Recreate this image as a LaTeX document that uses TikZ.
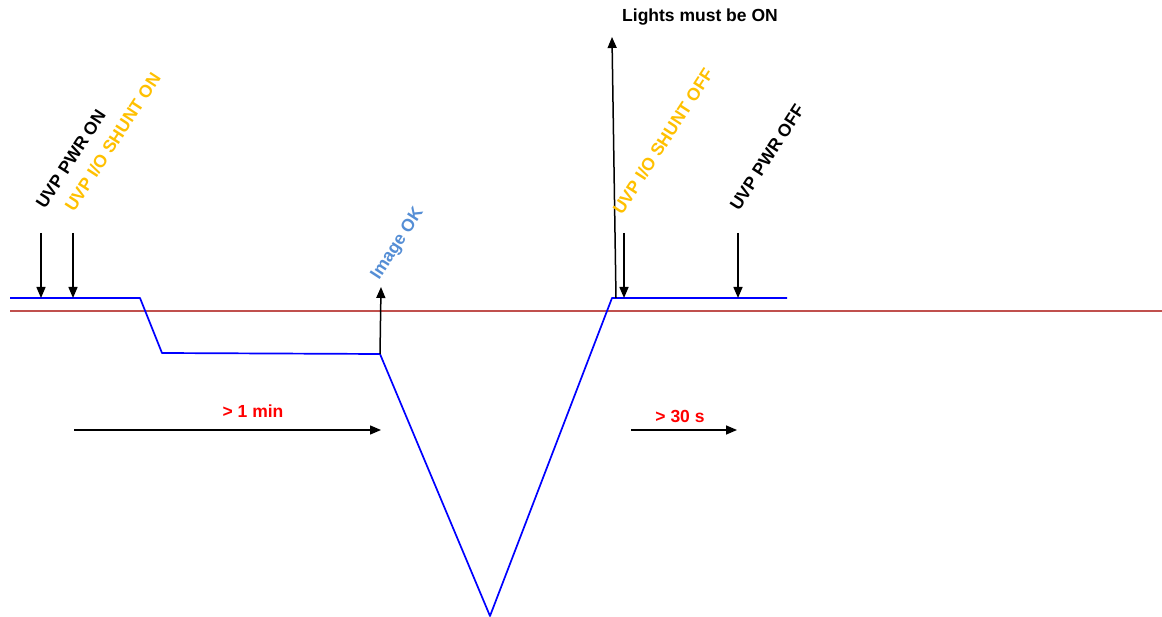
\documentclass[tikz,border=0pt]{standalone}
\usepackage{fontspec}
\setmainfont{Liberation Sans}
\usetikzlibrary{arrows.meta,positioning}

\definecolor{wave}{RGB}{0,0,255}
\definecolor{ref}{RGB}{192,80,77}
\definecolor{shunt}{RGB}{255,192,0}
\definecolor{imgok}{RGB}{85,142,213}
\definecolor{timing}{RGB}{255,0,0}

\begin{document}
\begin{tikzpicture}[
  x=1pt,
  y=-1pt,
  every node/.style={font=\fontsize{17.5}{20}\selectfont\bfseries},
  event/.style={
    rotate=57,
    anchor=base west,
    inner sep=0pt
  },
  note/.style={
    inner sep=0pt,
    text=timing
  },
  marker/.style={-{Triangle[length=11pt,width=9pt]}, line width=1.5pt},
  signal/.style={draw=wave, line width=1.7pt, line join=round},
  baseline/.style={draw=ref, line width=1.9pt}
]
\useasboundingbox (0,0) rectangle (1162,617);

% reference level and signal
\coordinate (refl) at (10,311);
\coordinate (refr) at (1162,311);
\coordinate (s0) at (10,298);
\coordinate (s1) at (140,298);
\coordinate (s2) at (162,353);
\coordinate (s3) at (380,354);
\coordinate (s4) at (490,616);
\coordinate (s5) at (612,298);
\coordinate (s6) at (787,298);

\draw[baseline] (refl) -- (refr);
\draw[signal] (s0) -- (s1) -- (s2) -- (s3) -- (s4) -- (s5) -- (s6);

% event markers
\coordinate (pwron) at (41,233);
\coordinate (pwronhit) at (41,298);
\coordinate (shon) at (73,233);
\coordinate (shonhit) at (73,298);
\coordinate (shoff) at (624,233);
\coordinate (shoffhit) at (624,298);
\coordinate (pwroff) at (738,233);
\coordinate (pwroffhit) at (738,298);
\coordinate (okup) at (381,287);
\coordinate (lbot) at (616,298);
\coordinate (ltop) at (612,37);

\draw[marker] (pwron) -- (pwronhit);
\draw[marker] (shon) -- (shonhit);
\draw[marker] (shoff) -- (shoffhit);
\draw[marker] (pwroff) -- (pwroffhit);
\draw[marker] (s3) -- (okup);
\draw[marker] (lbot) -- (ltop);

\node[event] (lpwron) at (45,210) {UVP PWR ON};
\node[event, text=shunt] (lshon) at (74,213) {UVP I/O SHUNT ON};
\node[event, text=imgok] (lok) at (379,281) {Image OK};
\node[event, text=shunt] (lshoff) at (622,216) {UVP I/O SHUNT OFF};
\node[event] (lpwroff) at (739,212) {UVP PWR OFF};
\node[inner sep=0pt] (lights) at (700,17) {Lights must be ON};

% timing
\coordinate (t1a) at (74,430);
\coordinate (t1b) at (381,430);
\coordinate (t2a) at (631,430);
\coordinate (t2b) at (737,430);

\draw[marker] (t1a) -- (t1b);
\draw[marker] (t2a) -- (t2b);
\node[note] (min) at (253,411) {> 1 min};
\node[note] (sec) at (680,416) {> 30 s};
\end{tikzpicture}
\end{document}
